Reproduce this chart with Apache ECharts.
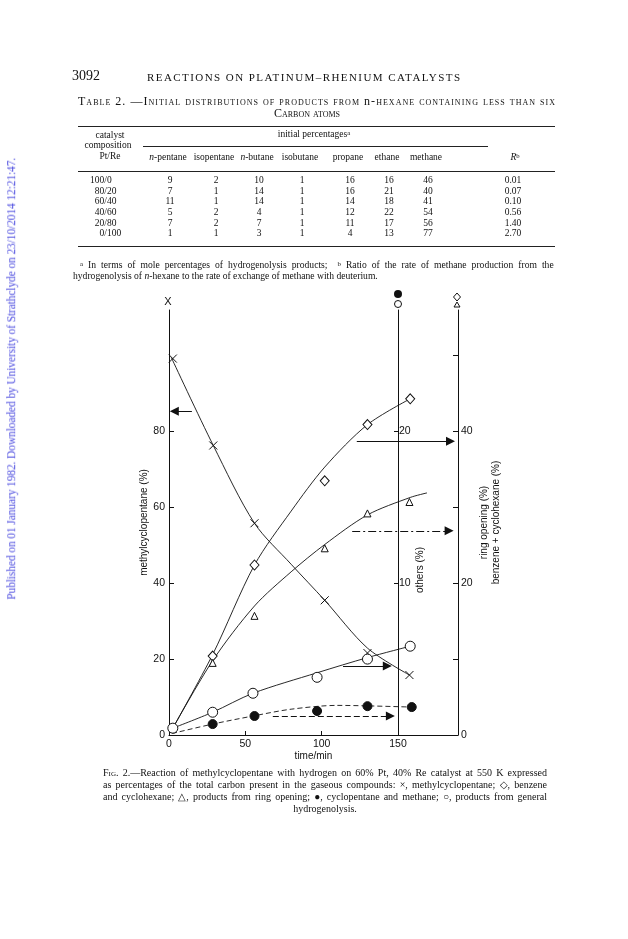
<!DOCTYPE html>
<html><head><meta charset="utf-8">
<script src="https://cdn.jsdelivr.net/npm/echarts/dist/echarts.min.js"></script>
<style>
body{margin:0;width:628px;height:939px;background:#fff;position:relative;overflow:hidden;font-family:'Liberation Serif',serif;color:#111}
.t{position:absolute;white-space:nowrap;line-height:1;z-index:2}
.r{position:absolute;height:0;border-top:1px solid #222;z-index:2}
#chart{position:absolute;left:0;top:0;width:628px;height:939px;z-index:1}
.sup{font-size:0.7em;position:relative;top:-0.35em}
</style></head>
<body>
<div id="chart"></div>
<script>
// ---------- table data ----------
const tableCols = ['<i>n</i>-pentane','isopentane','<i>n</i>-butane','isobutane','propane','ethane','methane','<i>R</i><span class="sup">b</span>'];
const tableRowsL = ['100','80','60','40','20','0'];
const tableRowsR = ['0','20','40','60','80','100'];
const nPentane = [9,7,11,5,7,1];
const isopentane = [2,1,1,2,2,1];
const nButane = [10,14,14,4,7,3];
const isobutane = [1,1,1,1,1,1];
const propane = [16,16,14,12,11,4];
const ethane = [16,21,18,22,17,13];
const methane = [46,40,41,54,56,77];
const ratioR = ['0.01','0.07','0.10','0.56','1.40','2.70'];

// ---------- chart data (time/min, value) ----------
const mcpT = [2.5, 29, 56, 102, 130, 157.5];
const mcpV = [99.2, 76.3, 55.8, 35.5, 21.6, 15.8];
const mcpCurveT = [1.5, 29, 56, 80, 102, 130, 157.5];
const mcpCurveV = [99.5, 76.3, 55.8, 45, 35.5, 22.9, 15.8];

const benzT = [28.6, 56, 102, 130, 158];
const benzV = [10.4, 22.4, 33.5, 40.9, 44.3];
const benzCurveT = [2.5, 28.6, 56, 80, 102, 130, 158];
const benzCurveV = [0.9, 10.6, 22.4, 29.5, 35.3, 40.9, 44.3];

const ringT = [28.6, 56, 102, 130, 157.5];
const ringV = [9.5, 15.7, 24.6, 29.2, 30.7];
const ringCurveT = [2.5, 28.6, 56, 80, 102, 130, 158, 169];
const ringCurveV = [0.9, 9.8, 17, 21.5, 25.1, 29.0, 31.3, 31.9];

const genT = [2.5, 28.6, 55, 97, 130, 158];
const genV = [0.45, 1.5, 2.75, 3.8, 5.0, 5.85];
const genCurveT = [2.5, 28.6, 55, 97, 130, 158];
const genCurveV = [0.45, 1.5, 2.75, 4.1, 5.1, 5.85];

const cpT = [28.6, 56, 97, 130, 159];
const cpV = [0.72, 1.25, 1.58, 1.9, 1.84];
const cpCurveT = [2, 28.6, 56, 80, 110, 130, 159];
const cpCurveV = [0.1, 0.72, 1.27, 1.7, 1.95, 1.92, 1.84];

// arrows: [fromTime, toTime, value]
const arrowMcp = [15, 3.5, 85.3];
const arrowBenz = [123, 184.4, 38.7];
const arrowRing = [120, 183.5, 26.9];
const arrowGen = [114, 143, 4.55];
const arrowCp = [68, 145, 1.25];

const xTicks = [0, 50, 100, 150];
const leftTicks = [0, 20, 40, 60, 80];
const othersTicks = [10, 20];
const rightTicks = [0, 20, 40];

// ---------- page text ----------
function txt(html, x, cy, size, opt) {
  opt = opt || {};
  const d = document.createElement('div');
  d.className = 't'; d.innerHTML = html;
  d.style.fontSize = size + 'px';
  if (opt.sc) d.style.fontVariant = 'small-caps';
  if (opt.family) d.style.fontFamily = opt.family;
  if (opt.color) d.style.color = opt.color;
  if (opt.weight) d.style.fontWeight = opt.weight;
  document.body.appendChild(d);
  let w = d.getBoundingClientRect().width;
  if (opt.width) {
    if (opt.letter) {
      d.style.letterSpacing = ((opt.width - w) / (d.textContent.length - 1)) + 'px';
    } else {
      const sp = (d.textContent.match(/ /g) || []).length;
      if (sp) d.style.wordSpacing = ((opt.width - w) / sp) + 'px';
    }
    w = d.getBoundingClientRect().width;
  }
  const left = opt.align === 'center' ? x - w / 2 : (opt.align === 'right' ? x - w : x);
  d.style.left = left + 'px';
  d.style.top = (cy - size / 2) + 'px';
  if (opt.rotate) {
    d.style.transform = 'rotate(' + opt.rotate + 'deg)';
  }
  return d;
}
function rule(x1, x2, y) {
  const d = document.createElement('div'); d.className = 'r';
  d.style.left = x1 + 'px'; d.style.width = (x2 - x1) + 'px'; d.style.top = y + 'px';
  document.body.appendChild(d);
}

txt('3092', 72, 76, 14);
txt('REACTIONS ON PLATINUM–RHENIUM CATALYSTS', 147, 77, 11, {width: 313, letter: true});
txt('Table 2. —Initial distributions of products from <span style="font-variant:normal">n</span>-hexane containing less than six', 78, 101, 12, {sc: true, width: 477, letter: true});
txt('Carbon atoms', 307, 113, 12, {sc: true, align: 'center'});

rule(78, 555, 126);
txt('catalyst', 110, 136, 9.5, {align: 'center'});
txt('composition', 108, 146, 9.5, {align: 'center'});
txt('Pt/Re', 110, 157, 9.5, {align: 'center'});
txt('initial percentages<span class="sup">a</span>', 314, 135, 9.5, {align: 'center'});
rule(143, 488, 146);
const colX = [168, 214, 257, 300, 348, 387, 426, 515];
tableCols.forEach((c, i) => txt(c, colX[i], 158, 9.5, {align: 'center'}));
rule(78, 555, 171);
const rowCols = [nPentane, isopentane, nButane, isobutane, propane, ethane, methane, ratioR];
tableRowsL.forEach((r, j) => {
  const y = 181 + j * 10.6;
  txt(r + '/', 107, y, 9.5, {align: 'right'});
  txt(tableRowsR[j], 107, y, 9.5);
  rowCols.forEach((col, i) => txt(String(col[j]), colX[i] + (i === 7 ? -2 : 2), y, 9.5, {align: 'center'}));
});
rule(78, 555, 246);

txt('<span class="sup">a</span> In terms of mole percentages of hydrogenolysis products;&nbsp; <span class="sup">b</span> Ratio of the rate of methane production from the', 80, 265, 9.6, {width: 471});
txt('hydrogenolysis of <i>n</i>-hexane to the rate of exchange of methane with deuterium.', 73, 276, 9.6);

txt('<span style="font-variant:small-caps">Fig.</span> 2.—Reaction of methylcyclopentane with hydrogen on 60% Pt, 40% Re catalyst at 550 K expressed', 103, 773, 10, {width: 444});
txt('as percentages of the total carbon present in the gaseous compounds: ×, methylcyclopentane; ◇, benzene', 103, 785, 10, {width: 444});
txt('and cyclohexane; △, products from ring opening; ●, cyclopentane and methane; ○, products from general', 103, 797, 10, {width: 444});
txt('hydrogenolysis.', 325, 809, 10, {align: 'center'});

txt('Published on 01 January 1982. Downloaded by University of Strathclyde on 23/10/2014 12:21:47.', 12, 379, 11.5, {align: 'center', width: 442, letter: true, color: '#5050e0', rotate: -90});

// ---------- chart ----------
const sans = 'Liberation Sans';
const ink = '#111';
const lbl = {color: ink, fontFamily: sans, fontSize: 10.5};
const pts = (t, v) => t.map((x, i) => [x, v[i]]);

function curve(t, v, yi, dash, arrow, arrowDash) {
  const s = {
    type: 'line', yAxisIndex: yi, data: pts(t, v), smooth: 0.3, showSymbol: false, silent: true, z: 2,
    lineStyle: {color: ink, width: 0.9, type: dash || 'solid'}
  };
  if (arrow) {
    s.markLine = {
      silent: true, symbol: ['none', 'triangle'], symbolSize: 9, animation: false,
      label: {show: false}, emphasis: {disabled: true},
      lineStyle: {color: ink, width: 1, type: arrowDash || 'solid'},
      itemStyle: {color: ink},
      data: [[{coord: [arrow[0], arrow[2]]}, {coord: [arrow[1], arrow[2]]}]]
    };
  }
  return s;
}
function marks(t, v, yi, symbol, size, fill) {
  return {
    type: 'scatter', yAxisIndex: yi, data: pts(t, v), symbol: symbol, symbolSize: size, silent: true, z: 5,
    itemStyle: {color: fill, borderColor: ink, borderWidth: 1, opacity: 1}
  };
}

const chart = echarts.init(document.getElementById('chart'));
chart.setOption({
  animation: false,
  grid: {left: 169, top: 310, width: 289, height: 425},
  xAxis: {
    type: 'value', min: 0, max: 189.3, interval: 50,
    axisLine: {show: true, lineStyle: {color: ink, width: 1}},
    axisTick: {show: true, inside: true, length: 4, customValues: [50, 100, 150], lineStyle: {color: ink}},
    axisLabel: Object.assign({margin: 4, customValues: xTicks}, lbl),
    splitLine: {show: false},
    name: 'time/min', nameLocation: 'middle', nameGap: 13,
    nameTextStyle: {fontFamily: sans, fontSize: 10, color: ink}
  },
  yAxis: [
    {
      type: 'value', position: 'left', min: 0, max: 112,
      axisLine: {show: true, lineStyle: {color: ink, width: 1}},
      axisTick: {show: true, inside: true, length: 5, customValues: [20, 40, 60, 80], lineStyle: {color: ink}},
      axisLabel: Object.assign({margin: 4, customValues: leftTicks}, lbl),
      splitLine: {show: false},
      name: 'methylcyclopentane (%)', nameLocation: 'middle', nameRotate: 90, nameGap: 19,
      nameTextStyle: {fontFamily: sans, fontSize: 10, color: ink}
    },
    {
      type: 'value', position: 'right', offset: -60, min: 0, max: 28,
      axisLine: {show: true, lineStyle: {color: ink, width: 1}},
      axisTick: {show: true, inside: true, length: 4, customValues: othersTicks, lineStyle: {color: ink}},
      axisLabel: Object.assign({margin: 1, customValues: othersTicks}, lbl),
      splitLine: {show: false}
    },
    {
      type: 'value', position: 'right', offset: 0, min: 0, max: 56,
      axisLine: {show: true, lineStyle: {color: ink, width: 1}},
      axisTick: {show: true, inside: true, length: 5, customValues: [10, 20, 30, 40, 50], lineStyle: {color: ink}},
      axisLabel: Object.assign({margin: 3, customValues: rightTicks}, lbl),
      splitLine: {show: false},
      name: 'ring opening (%)\nbenzene + cyclohexane (%)', nameLocation: 'middle', nameRotate: 90, nameGap: 20,
      nameTextStyle: {fontFamily: sans, fontSize: 10, color: ink, lineHeight: 12}
    }
  ],
  graphic: [
    {type: 'text', x: 168, y: 302, style: {text: 'X', font: '11px Liberation Sans', fill: ink, align: 'center', verticalAlign: 'middle'}},
    {type: 'circle', shape: {cx: 398, cy: 294, r: 4}, style: {fill: ink}},
    {type: 'circle', shape: {cx: 398, cy: 304, r: 3.5}, style: {fill: '#fff', stroke: ink, lineWidth: 1}},
    {type: 'polygon', shape: {points: [[457, 293], [460.5, 297], [457, 301], [453.5, 297]]}, style: {fill: '#fff', stroke: ink, lineWidth: 1}},
    {type: 'polygon', shape: {points: [[457, 302], [460, 307], [454, 307]]}, style: {fill: '#fff', stroke: ink, lineWidth: 1}},
    {type: 'text', x: 420, y: 570, rotation: Math.PI / 2, style: {text: 'others (%)', font: '10px Liberation Sans', fill: ink, align: 'center', verticalAlign: 'middle'}}
  ],
  series: [
    curve(mcpCurveT, mcpCurveV, 0, 'solid', arrowMcp),
    curve(benzCurveT, benzCurveV, 2, 'solid', arrowBenz),
    curve(ringCurveT, ringCurveV, 2, 'solid', arrowRing, [8, 3, 2, 3]),
    curve(genCurveT, genCurveV, 1, 'solid', arrowGen),
    curve(cpCurveT, cpCurveV, 1, [5, 3], arrowCp, [6, 3]),
    marks(mcpT, mcpV, 0, 'path://M0 0L10 10M10 0L0 10', 8, 'transparent'),
    marks(benzT, benzV, 2, 'diamond', [9, 10], '#fff'),
    marks(ringT, ringV, 2, 'triangle', 7, '#fff'),
    marks(genT, genV, 1, 'circle', 10, '#fff'),
    marks(cpT, cpV, 1, 'circle', 9, ink)
  ]
});
</script>
</body></html>
